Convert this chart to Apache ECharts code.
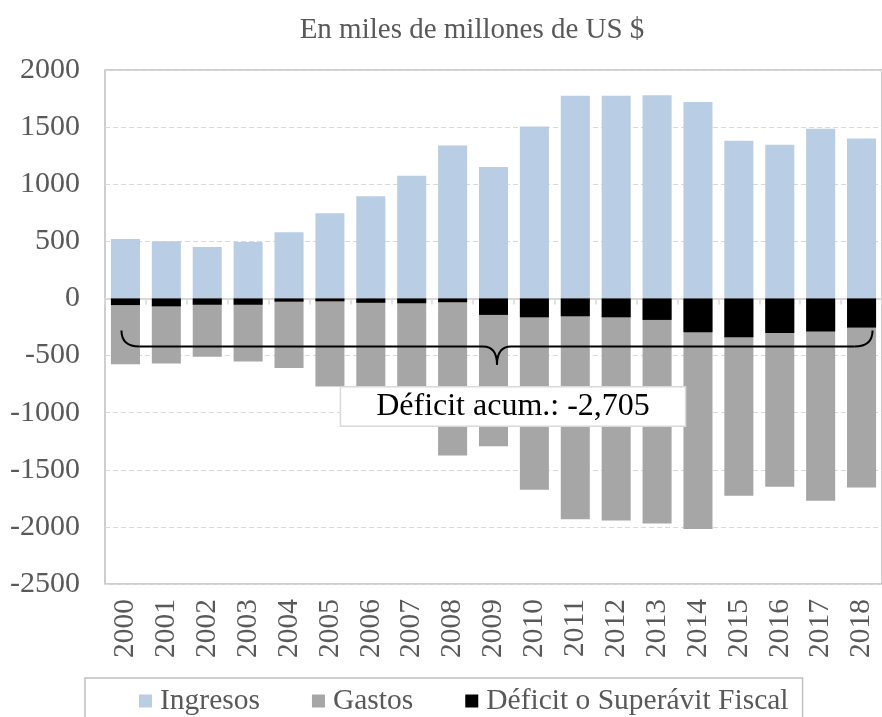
<!DOCTYPE html>
<html>
<head>
<meta charset="utf-8">
<script src="https://cdn.jsdelivr.net/npm/echarts@6/dist/echarts.min.js"></script>
<style>
  html, body { margin: 0; padding: 0; background: #ffffff; }
  #chart { width: 882px; height: 717px; }
</style>
</head>
<body>
<div id="chart"></div>
<script>
// Años fiscales
const years = ['2000','2001','2002','2003','2004','2005','2006','2007','2008','2009',
               '2010','2011','2012','2013','2014','2015','2016','2017','2018'];

// Ingresos del sector público (miles de millones de US $)
const ingresos = [520, 500, 450, 495, 580, 745, 895, 1075, 1340, 1150,
                  1505, 1775, 1775, 1780, 1720, 1380, 1345, 1485, 1400];

// Gastos (negativos)
const gastos = [-577, -570, -510, -553, -608, -770, -930, -1115, -1375, -1294,
                -1675, -1933, -1945, -1971, -2018, -1727, -1648, -1772, -1656];

// Resultado fiscal anual
const deficit = [-58, -69, -55, -55, -28, -25, -38, -42, -33, -144,
                 -165, -156, -165, -188, -297, -340, -302, -290, -255];

const yTicks = { min: -2500, max: 2000, interval: 500 };

const serif = '"Liberation Serif", "Times New Roman", serif';
const grey = '#595959';

const deficitAcum = deficit.reduce((a, b) => a + b, 0);
const deficitLabel = 'Déficit acum.: ' + deficitAcum.toLocaleString('en-US');

const chart = echarts.init(document.getElementById('chart'), null, { renderer: 'canvas' });

const option = {
  backgroundColor: '#ffffff',
  animation: false,
  title: {
    text: 'En miles de millones de US $',
    left: 467,
    top: 11,
    textAlign: 'center',
    textStyle: { fontFamily: serif, fontSize: 29, fontWeight: 'normal', color: grey }
  },
  legend: {
    data: ['Ingresos', 'Gastos', 'Déficit o Superávit Fiscal'],
    left: 85,
    top: 678,
    orient: 'horizontal',
    padding: [8, 14, 20, 54],
    borderColor: '#bfbfbf',
    borderWidth: 1.5,
    icon: 'rect',
    itemWidth: 13,
    itemHeight: 13,
    itemGap: 52,
    textStyle: { fontFamily: serif, fontSize: 29.5, color: grey, padding: [0, 0, 0, 3] }
  },
  grid: {
    left: 105,
    top: 70,
    width: 785,
    height: 514,
    show: true,
    borderColor: '#bfbfbf',
    borderWidth: 1.5,
    backgroundColor: 'transparent',
    containLabel: false
  },
  xAxis: [
    {
      type: 'category',
      data: years,
      position: 'bottom',
      axisLine: { onZero: true, lineStyle: { color: '#d9d9d9', width: 2 } },
      axisTick: { show: true, length: 6, lineStyle: { color: '#d9d9d9', width: 1.5 } },
      axisLabel: { show: false },
      splitLine: { show: false }
    },
    {
      type: 'category',
      data: years,
      position: 'bottom',
      axisLine: { show: false, onZero: false },
      axisTick: { show: false },
      axisLabel: {
        rotate: 90,
        margin: 15,
        fontFamily: serif,
        fontSize: 29.5,
        color: grey
      },
      splitLine: { show: false }
    }
  ],
  yAxis: {
    type: 'value',
    min: yTicks.min,
    max: yTicks.max,
    interval: yTicks.interval,
    axisLine: { show: false },
    axisTick: { show: false },
    axisLabel: {
      margin: 25,
      fontFamily: serif,
      fontSize: 30,
      color: grey,
      formatter: (v) => String(v)
    },
    splitLine: { show: true, lineStyle: { color: '#d9d9d9', width: 1, type: [5, 3] } }
  },
  series: [
    {
      name: 'Ingresos',
      type: 'bar',
      xAxisIndex: 0,
      data: ingresos,
      barWidth: '71%',
      barGap: '-100%',
      itemStyle: { color: '#b9cde5' }
    },
    {
      name: 'Gastos',
      type: 'bar',
      xAxisIndex: 0,
      data: gastos,
      barWidth: '71%',
      barGap: '-100%',
      itemStyle: { color: '#a6a6a6' }
    },
    {
      name: 'Déficit o Superávit Fiscal',
      type: 'bar',
      xAxisIndex: 0,
      data: deficit,
      barWidth: '71%',
      barGap: '-100%',
      itemStyle: { color: '#000000' }
    }
  ]
};

chart.setOption(option);

// Llave bajo el eje que agrupa todos los años, con su recuadro de total
function px(catIndex, value) {
  return chart.convertToPixel({ xAxisIndex: 0, yAxisIndex: 0 }, [catIndex, value]);
}
const L = px(0, 0)[0] - 4;
const R = px(years.length - 1, 0)[0] + 11;
const M = (L + R) / 2;
const yEnd = px(0, -280)[1];
const yBar = px(0, -420)[1];
const yTip = px(0, -580)[1];
const yBox = px(0, -945)[1];

const braceStyle = { stroke: '#000000', lineWidth: 2, fill: null };
const curve = (x1, y1, cx, cy, x2, y2) => ({
  type: 'bezierCurve', z: 100,
  shape: { x1: x1, y1: y1, cpx1: cx, cpy1: cy, x2: x2, y2: y2 },
  style: braceStyle
});
const seg = (x1, y1, x2, y2) => ({
  type: 'line', z: 100,
  shape: { x1: x1, y1: y1, x2: x2, y2: y2 },
  style: braceStyle
});

chart.setOption({
  graphic: [
    curve(L, yEnd, L, yBar, L + 18, yBar),
    seg(L + 18, yBar, M - 14, yBar),
    curve(M - 14, yBar, M, yBar, M, yTip),
    curve(M, yTip, M, yBar, M + 14, yBar),
    seg(M + 14, yBar, R - 18, yBar),
    curve(R - 18, yBar, R, yBar, R, yEnd),
    {
      type: 'text',
      z: 101,
      x: M + 16,
      y: yBox,
      style: {
        text: deficitLabel,
        font: '32px ' + serif,
        fill: '#000000',
        align: 'center',
        verticalAlign: 'middle',
        backgroundColor: '#ffffff',
        borderColor: '#d9d9d9',
        borderWidth: 1.5,
        padding: [4, 35, 2, 35]
      }
    }
  ]
});
</script>
</body>
</html>
